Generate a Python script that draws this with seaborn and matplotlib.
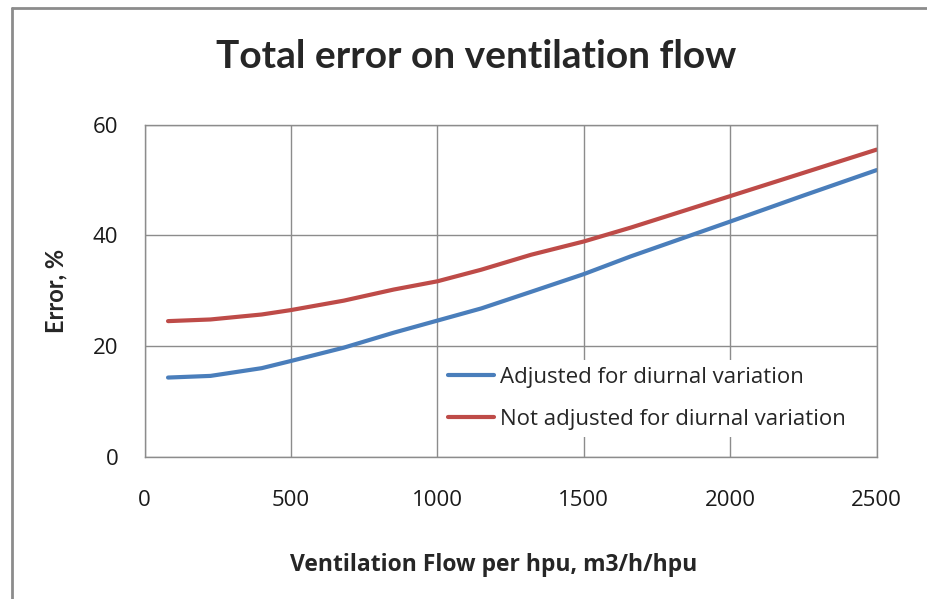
import pandas as pd
import seaborn as sns
import matplotlib.pyplot as plt
from matplotlib.lines import Line2D

# Values
flow = [80, 225, 400, 500, 680, 850, 1000, 1150, 1320, 1500, 1660, 2000, 2250, 2500]
adjusted = [14.3, 14.6, 16.0, 17.3, 19.7, 22.4, 24.6, 26.8, 29.8, 33.0, 36.2, 42.5, 47.2, 51.8]
not_adjusted = [24.5, 24.8, 25.7, 26.5, 28.2, 30.2, 31.7, 33.8, 36.5, 38.9, 41.4, 47.1, 51.3, 55.5]
series_names = ['Adjusted for diurnal variation', 'Not adjusted for diurnal variation']
x_ticks = [0, 500, 1000, 1500, 2000, 2500]
y_ticks = [0, 20, 40, 60]

df = pd.DataFrame({
    'flow': flow * 2,
    'error': adjusted + not_adjusted,
    'series': [series_names[0]] * len(flow) + [series_names[1]] * len(flow),
})

sns.set_style("white")
plt.rcParams['font.family'] = ['Open Sans', 'DejaVu Sans']

fig = plt.figure(figsize=(9.27, 5.99), dpi=100)
ax = fig.add_axes([0.156, 0.2376, 0.7897, 0.5542])

sns.lineplot(data=df, x='flow', y='error', hue='series',
             palette=['#4a7ebb', '#be4b48'], linewidth=3, ax=ax, legend=False)

ax.set_xlim(0, 2500)
ax.set_ylim(0, 60)
ax.set_xticks(x_ticks)
ax.set_yticks(y_ticks)
ax.grid(True, color='#8c8c8c', linewidth=1)
ax.set_axisbelow(True)
for s in ax.spines.values():
    s.set_color('#8c8c8c')
    s.set_linewidth(1)
ax.tick_params(axis='x', length=0, pad=24, labelsize=16, labelcolor='#1a1a1a')
ax.tick_params(axis='y', length=0, pad=19, labelsize=16, labelcolor='#1a1a1a')

ax.set_xlabel('Ventilation Flow per hpu, m3/h/hpu', fontsize=16.5, fontweight='bold', labelpad=30)
ax.xaxis.label.set_x(0.477)
ax.set_ylabel('Error, %', family='Lato', fontsize=17, fontweight='bold', labelpad=18)
fig.text(0.514, 0.906, 'Total error on ventilation flow', family='Lato', fontsize=28,
         fontweight='bold', ha='center', va='center')

handles = [Line2D([], [], color='#4a7ebb', lw=3), Line2D([], [], color='#be4b48', lw=3)]
leg = ax.legend(handles, series_names, loc='upper left', bbox_to_anchor=(0.405, 0.29),
                frameon=True, fontsize=16, handlelength=2.1, handletextpad=0.25,
                labelspacing=0.95, borderaxespad=0, borderpad=0.3)
leg.get_frame().set_edgecolor('none')
leg.get_frame().set_facecolor('white')
leg.get_frame().set_alpha(1)

# outer chart border (left and top edges visible)
fig.add_artist(Line2D([12 / 927, 12 / 927], [0, 1 - 8 / 599], transform=fig.transFigure,
                      color='#8c8c8c', lw=2))
fig.add_artist(Line2D([12 / 927, 1], [1 - 8 / 599, 1 - 8 / 599], transform=fig.transFigure,
                      color='#8c8c8c', lw=2))

plt.savefig('out.png', dpi=100)
print("File successfully saved.")
